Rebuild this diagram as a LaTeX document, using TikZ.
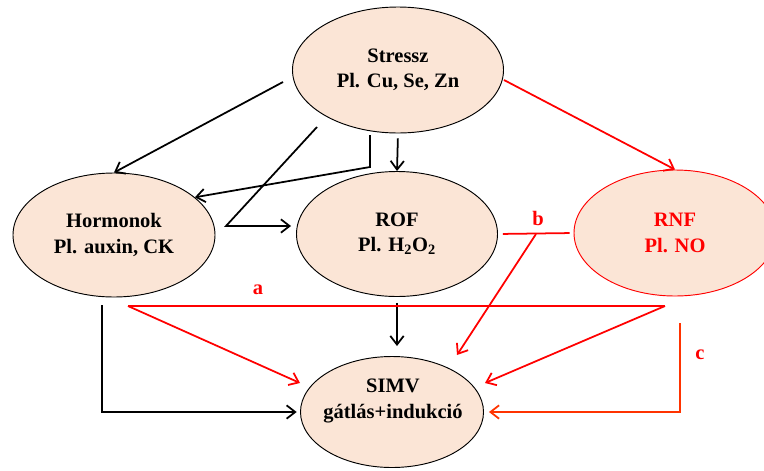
\documentclass[tikz,border=0pt]{standalone}
\usepackage{fontspec}
\setmainfont{Liberation Serif}
\usetikzlibrary{shapes.geometric,arrows.meta}

\begin{document}
\begin{tikzpicture}[x=0.03cm, y=-0.03cm,
    font=\bfseries\fontsize{17.5}{21.5}\selectfont,
    oval/.style={ellipse, draw=black, line width=0.8pt, fill=Peach, inner sep=0pt, align=center},
    arr/.style={line width=1.5pt, -{Straight Barb[length=2.6mm, width=4mm]}},
    rarr/.style={arr, draw=red},
    rline/.style={line width=1.5pt, draw=red},
    lbl/.style={text=red, inner sep=1pt}]
    \definecolor{Peach}{HTML}{FBE5D6}
    \definecolor{OrangeRed}{HTML}{FF3300}
    \useasboundingbox (0,0) rectangle (764,470);
    \node[oval, minimum width=6.33cm, minimum height=3.78cm] (stressz) at (398,70) {Stressz\\Pl. Cu, Se, Zn};
    \node[oval, minimum width=6.06cm, minimum height=3.72cm] (horm) at (114,235) {Hormonok\\Pl. auxin, CK};
    \node[oval, minimum width=6.03cm, minimum height=3.75cm] (rof) at (397,234) {ROF\\Pl. H\textsubscript{2}O\textsubscript{2}};
    \node[oval, draw=red, text=red, minimum width=6.06cm, minimum height=3.78cm] (rnf) at (675,233) {RNF\\Pl. NO};
    \node[oval, minimum width=5.49cm, minimum height=3.33cm] (simv) at (392,412) {};
    \node[align=center, inner sep=0pt] (simvtxt) at (393,401) {SIMV\\gátlás+indukció};
    \coordinate (s1) at (283,82);
    \coordinate (s2) at (317,127);
    \coordinate (s3) at (226,226);
    \coordinate (s4) at (370,135);
    \coordinate (s5) at (370,167);
    \coordinate (s6) at (504,80);
    \coordinate (h1) at (102,305);
    \coordinate (a1) at (128,306);
    \coordinate (a2) at (665,306);
    \coordinate (a3) at (300,383);
    \coordinate (a4) at (485,383);
    \coordinate (b1) at (536,234);
    \coordinate (b2) at (457,355);
    \coordinate (n1) at (680,323);
    \draw[arr] (s1) -- (horm.north);
    \draw[arr, shorten >=0.15cm] (s2) -- (s3) -- (s3 -| rof.west);
    \draw[arr] (s4) -- (s5) -- (horm.25);
    \draw[arr, shorten <=0.15cm] (stressz.south) -- (rof.north);
    \draw[arr, shorten <=0.18cm, shorten >=0.3cm] (rof.south) -- (rof.south |- simv.north);
    \draw[arr, shorten >=0.1cm] (h1) |- (simv.west);
    \draw[rarr] (s6) -- (rnf.north);
    \draw[rline, shorten <=0.15cm, shorten >=0.12cm] (rof.east) -- (rnf.west);
    \node[lbl] (b) at (538,218) {b};
    \draw[rarr] (b1) -- (b2);
    \draw[rline] (a1) -- (a2);
    \draw[rarr] (a1) -- (a3);
    \draw[rarr] (a2) -- (a4);
    \node[lbl] (a) at (258,290) {a};
    \draw[arr, draw=OrangeRed, shorten >=0.15cm] (n1) |- (simv.east);
    \node[lbl] (c) at (700,355) {c};
\end{tikzpicture}
\end{document}
